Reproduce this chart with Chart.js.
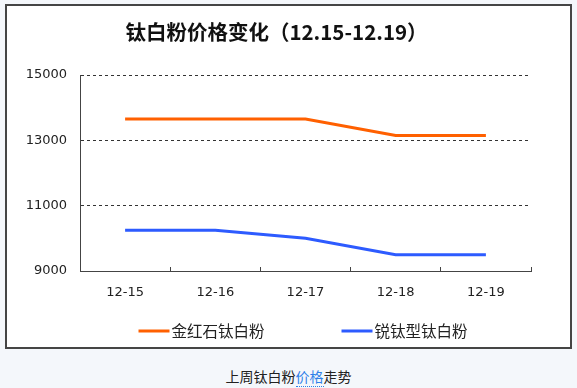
<!DOCTYPE html>
<html>
<head>
<meta charset="utf-8">
<script src="https://cdn.jsdelivr.net/npm/chart.js@4"></script>
<style>
  body { margin: 0; width: 577px; height: 388px; background: #f4f7fb; position: relative; overflow: hidden; font-family: "Noto Sans CJK SC", sans-serif; }
  #box { position: absolute; left: 5px; top: 4px; width: 563px; height: 341px; border: 2px solid #454545; background: #fff; }
  canvas { position: absolute; left: 0; top: 0; }
  #cap { position: absolute; left: 0; top: 366px; width: 577px; text-align: center; font-size: 14px; color: #222; line-height: 20px; }
  #cap span { color: #2f80e8; border-bottom: 1px dotted #2f80e8; }
</style>
</head>
<body>
<div id="box"></div>
<canvas id="c" width="577" height="350"></canvas>
<div id="cap">上周钛白粉<span>价格</span>走势</div>
<script>
const dates = ["12-15", "12-16", "12-17", "12-18", "12-19"];
const rutile = [13650, 13650, 13650, 13150, 13150];   // 金红石钛白粉
const anatase = [10250, 10250, 10000, 9500, 9500];    // 锐钛型钛白粉
const yMin = 9000, yMax = 15000, yStep = 2000;

// legend drawn below the axis: short line + label
const lineLegend = {
  id: "lineLegend",
  afterDraw(chart) {
    const { ctx, chartArea } = chart;
    ctx.save();
    ctx.font = '15.5px "Noto Sans CJK SC"';
    ctx.textBaseline = "middle";
    const items = chart.data.datasets.map(ds => ({ ds, w: 31 + 3 + ctx.measureText(ds.label).width }));
    const gap = 76;
    const total = items.reduce((s, it) => s + it.w, 0) + gap * (items.length - 1);
    let x = (chartArea.left + chartArea.right) / 2 - total / 2 - 2;
    const y = chartArea.bottom + 60;
    for (const it of items) {
      ctx.strokeStyle = it.ds.borderColor;
      ctx.lineWidth = 3;
      ctx.beginPath();
      ctx.moveTo(x, y);
      ctx.lineTo(x + 31, y);
      ctx.stroke();
      ctx.fillStyle = "#222";
      ctx.fillText(it.ds.label, x + 33, y);
      x += it.w + gap;
    }
    ctx.restore();
  }
};

new Chart(document.getElementById("c"), {
  type: "line",
  data: {
    labels: dates,
    datasets: [
      { label: "金红石钛白粉", data: rutile, borderColor: "#ff6000", borderWidth: 3, pointRadius: 0, tension: 0 },
      { label: "锐钛型钛白粉", data: anatase, borderColor: "#2d5bff", borderWidth: 3, pointRadius: 0, tension: 0 }
    ]
  },
  options: {
    responsive: false,
    animation: false,
    layout: { padding: { left: 22, right: 46, top: 0, bottom: 39 } },
    plugins: {
      legend: { display: false },
      tooltip: { enabled: false },
      title: {
        display: true,
        text: "钛白粉价格变化（12.15-12.19）",
        color: "#111",
        font: { family: "Noto Sans CJK SC", size: 20.5, weight: "bold" },
        padding: { top: 20, bottom: 30.4 }
      }
    },
    scales: {
      x: {
        offset: true,
        grid: { offset: true, drawOnChartArea: false, tickLength: -4, color: "#444" },
        border: { display: true, color: "#444" },
        ticks: { color: "#222", padding: 18, font: { family: "DejaVu Sans", size: 13 } },
        afterFit(s) { s.height = 40; }
      },
      y: {
        min: yMin,
        max: yMax,
        grid: { color: "#333", drawTicks: false },
        border: { display: true, color: "#444", dash: [3, 3] },
        ticks: {
          stepSize: yStep, color: "#222", padding: 13,
          font: { family: "DejaVu Sans", size: 13 },
          callback: v => String(v)
        },
        afterFit(s) { s.width = 58; }
      }
    }
  },
  plugins: [lineLegend]
});
</script>
</body>
</html>
